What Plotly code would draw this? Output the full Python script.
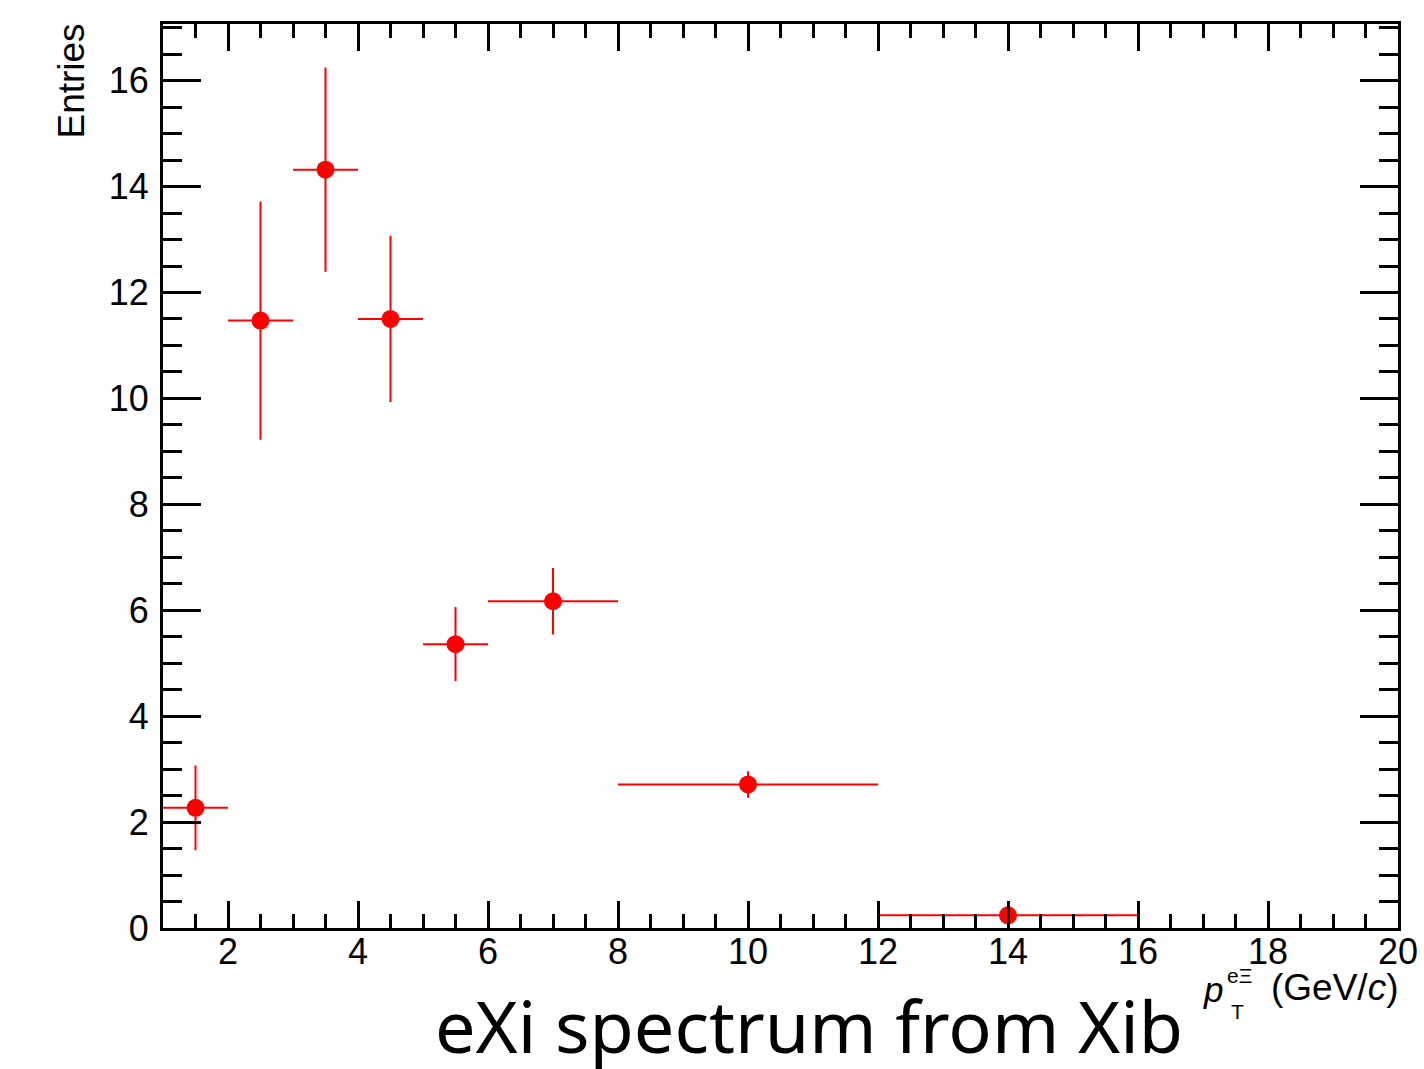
import plotly.graph_objects as go

# Data
bin_low = [1, 2, 3, 4, 5, 6, 8, 12]
bin_high = [2, 3, 4, 5, 6, 8, 12, 16]
entries = [2.27, 11.47, 14.32, 11.50, 5.36, 6.17, 2.71, 0.24]
errors = [0.80, 2.25, 1.93, 1.57, 0.70, 0.63, 0.25, 0.03]

centers = [(a + b) / 2 for a, b in zip(bin_low, bin_high)]
half_w = [(b - a) / 2 for a, b in zip(bin_low, bin_high)]

W, H = 1424, 1069
L, R, T, B = 163, 25.5, 24, 140.5
PW, PH = W - L - R, H - T - B


def px(x):
    return (x - L) / PW


def py(y):
    return (H - B - y) / PH


fig = go.Figure()
fig.add_trace(go.Scatter(
    x=centers, y=entries, mode="markers",
    marker=dict(color="#ff0000", size=18, symbol="circle"),
    error_x=dict(type="data", array=half_w, symmetric=True, color="#ff0000", thickness=2, width=0),
    error_y=dict(type="data", array=errors, symmetric=True, color="#ff0000", thickness=2, width=0),
    showlegend=False,
))

font_axis = "Liberation Sans, Arial, Helvetica, sans-serif"

fig.update_layout(
    width=W, height=H,
    margin=dict(l=L, r=R, t=T, b=B, autoexpand=False),
    paper_bgcolor="white", plot_bgcolor="white",
    xaxis=dict(
        range=[1, 20], showgrid=False, zeroline=False, automargin=False,
        showline=True, linecolor="black", linewidth=3, mirror="allticks",
        ticks="inside", ticklen=27, tickwidth=3, tickcolor="black",
        tick0=0, dtick=2,
        minor=dict(ticks="inside", ticklen=14, tickwidth=3, tickcolor="black", dtick=0.5, tick0=0, showgrid=False),
        tickfont=dict(family=font_axis, size=36, color="black"),
        ticklabelstandoff=-10,
    ),
    yaxis=dict(
        range=[0, 17.07], showgrid=False, zeroline=False, automargin=False,
        showline=True, linecolor="black", linewidth=3, mirror="allticks",
        ticks="inside", ticklen=38, tickwidth=3, tickcolor="black",
        tick0=0, dtick=2,
        minor=dict(ticks="inside", ticklen=19, tickwidth=3, tickcolor="black", dtick=0.5, tick0=0, showgrid=False),
        tickfont=dict(family=font_axis, size=36, color="black"),
        ticklabelstandoff=4,
    ),
    annotations=[
        dict(text="Entries", xref="paper", yref="paper", x=px(71), y=py(22),
             xanchor="center", yanchor="top", textangle=-90, showarrow=False,
             font=dict(family=font_axis, size=37, color="black")),
        dict(text="<i>p</i>", xref="paper", yref="paper", x=px(1225), y=py(990),
             xanchor="right", yanchor="middle", showarrow=False,
             font=dict(family=font_axis, size=35, color="black")),
        dict(text="eΞ", xref="paper", yref="paper", x=px(1225), y=py(976),
             xanchor="left", yanchor="middle", showarrow=False,
             font=dict(family=font_axis, size=21, color="black")),
        dict(text="T", xref="paper", yref="paper", x=px(1229), y=py(1012),
             xanchor="left", yanchor="middle", showarrow=False,
             font=dict(family=font_axis, size=21, color="black")),
        dict(text="(GeV/<i>c</i>)", xref="paper", yref="paper", x=px(1401), y=py(988),
             xanchor="right", yanchor="middle", showarrow=False,
             font=dict(family=font_axis, size=37, color="black")),
        dict(text="eXi spectrum from Xib", xref="paper", yref="paper", x=px(809), y=py(1026),
             xanchor="center", yanchor="middle", showarrow=False,
             font=dict(family="Noto Sans, Open Sans, sans-serif", size=72, color="black")),
    ],
)

fig.write_html("out.html")
